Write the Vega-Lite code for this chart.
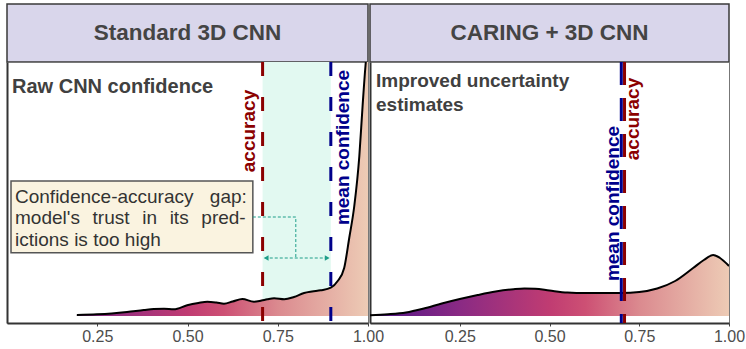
{
  "$schema": "https://vega.github.io/schema/vega-lite/v6.json",
  "background": "white",
  "padding": {"left": 6, "top": 3, "right": 0, "bottom": 0},
  "columns": 2,
  "spacing": {"row": 0, "column": 2},
  "bounds": "flush",
  "config": {
    "font": "Liberation Sans",
    "view": {"stroke": "#777", "strokeWidth": 1},
    "axisX": {"labelFontSize": 16, "labelColor": "#4d4d4d", "tickColor": "#444", "tickSize": 3, "domainColor": "#333", "domainWidth": 2, "grid": false, "labelPadding": 2, "labelFlush": false},
    "axisY": {"labels": false, "ticks": false, "grid": false, "domainColor": "#333", "domainWidth": 2}
  },
  "concat": [
    {
      "width": 361, "height": 58,
      "view": {"fill": "#d9d6eb", "stroke": "#3a3a3a", "strokeWidth": 1.5},
      "data": {"values": [{"title": "Standard 3D CNN"}]},
      "mark": {"type": "text", "fontSize": 22.5, "fontWeight": "bold", "color": "#444444"},
      "encoding": {"text": {"field": "title"}}
    },
    {
      "width": 359, "height": 58,
      "view": {"fill": "#d9d6eb", "stroke": "#3a3a3a", "strokeWidth": 1.5},
      "data": {"values": [{"title": "CARING + 3D CNN"}]},
      "mark": {"type": "text", "fontSize": 22.5, "fontWeight": "bold", "color": "#444444"},
      "encoding": {"text": {"field": "title"}}
    },
    {
      "width": 361, "height": 261,
      "layer": [
        {
          "data": {"values": [{"x1": 0.708, "x2": 0.897, "y1": 0, "y2": 254}]},
          "mark": {"type": "rect", "color": "#e2f9f1"},
          "encoding": {
            "x": {"field": "x1", "type": "quantitative", "title": null, "scale": {"domain": [0, 1], "nice": false, "zero": false}, "axis": {"values": [0.25, 0.5, 0.75, 1], "format": ".2f"}},
            "x2": {"field": "x2"},
            "y": {"field": "y1", "type": "quantitative", "title": null, "scale": {"domain": [-7, 254], "nice": false, "zero": false}},
            "y2": {"field": "y2"}
          }
        },
        {
          "data": {"name": "leftDensity", "values": [
            {"x": 0.1935, "d": 1}, {"x": 0.249, "d": 1.7}, {"x": 0.29, "d": 2.6}, {"x": 0.3325, "d": 4}, {"x": 0.379, "d": 6}, {"x": 0.4065, "d": 7}, {"x": 0.435, "d": 7.2}, {"x": 0.462, "d": 6.7}, {"x": 0.499, "d": 10.7}, {"x": 0.53, "d": 13}, {"x": 0.555, "d": 14.3}, {"x": 0.58, "d": 13.5}, {"x": 0.601, "d": 12.3}, {"x": 0.625, "d": 14.5}, {"x": 0.652, "d": 17}, {"x": 0.684, "d": 14.3}, {"x": 0.705, "d": 15.5}, {"x": 0.721, "d": 16.7}, {"x": 0.74, "d": 17.7}, {"x": 0.768, "d": 16.7}, {"x": 0.795, "d": 19}, {"x": 0.823, "d": 23}, {"x": 0.845, "d": 24.5}, {"x": 0.869, "d": 25.7}, {"x": 0.897, "d": 28.3}, {"x": 0.916, "d": 35}, {"x": 0.934, "d": 48}, {"x": 0.948, "d": 78}, {"x": 0.962, "d": 110}, {"x": 0.976, "d": 160}, {"x": 0.985, "d": 210}, {"x": 0.993, "d": 250}, {"x": 1.0, "d": 275}
          ]},
          "mark": {"type": "area", "interpolate": "monotone", "clip": true,
            "fill": {"gradient": "linear", "x1": 0, "y1": 0, "x2": 1, "y2": 0, "stops": [
              {"offset": 0, "color": "#7d2585"}, {"offset": 0.07, "color": "#8a2a84"}, {"offset": 0.38, "color": "#c03c72"}, {"offset": 0.504, "color": "#cd5074"}, {"offset": 0.69, "color": "#db8a8f"}, {"offset": 1, "color": "#edcbb5"}
            ]}},
          "encoding": {
            "x": {"field": "x", "type": "quantitative", "title": null},
            "y": {"field": "d", "type": "quantitative", "title": null},
            "y2": {"datum": 0}
          }
        },
        {
          "data": {"name": "leftDensity"},
          "mark": {"type": "line", "interpolate": "monotone", "clip": true, "color": "black", "strokeWidth": 2},
          "encoding": {
            "x": {"field": "x", "type": "quantitative", "title": null},
            "y": {"field": "d", "type": "quantitative", "title": null}
          }
        },
        {
          "data": {"values": [{"x": 0.708, "name": "accuracy"}, {"x": 0.897, "name": "mean confidence"}]},
          "mark": {"type": "rule", "strokeWidth": 3, "strokeDash": [14, 21]},
          "encoding": {
            "x": {"field": "x", "type": "quantitative", "title": null},
            "color": {"field": "name", "type": "nominal", "scale": {"domain": ["accuracy", "mean confidence"], "range": ["#8b0000", "#00008b"]}, "legend": null}
          }
        },
        {
          "data": {"values": [{"x": 0.669, "y": 185, "name": "accuracy"}, {"x": 0.931, "y": 168.5, "name": "mean confidence"}]},
          "mark": {"type": "text", "angle": 270, "fontSize": 19, "fontWeight": "bold", "align": "center", "baseline": "middle"},
          "encoding": {
            "x": {"field": "x", "type": "quantitative", "title": null},
            "y": {"field": "y", "type": "quantitative", "title": null},
            "text": {"field": "name"},
            "color": {"field": "name", "type": "nominal", "legend": null}
          }
        },
        {
          "data": {"values": [{"x": 0.0139, "y": 223, "t": "Raw CNN confidence"}]},
          "mark": {"type": "text", "align": "left", "baseline": "alphabetic", "fontSize": 20, "fontWeight": "bold", "color": "#404040"},
          "encoding": {
            "x": {"field": "x", "type": "quantitative", "title": null},
            "y": {"field": "y", "type": "quantitative", "title": null},
            "text": {"field": "t"}
          }
        },
        {
          "data": {"values": [{"x1": 0.0111, "x2": 0.681, "y1": 63.3, "y2": 135}]},
          "mark": {"type": "rect", "fill": "#faf3e0", "stroke": "#555", "strokeWidth": 1.5},
          "encoding": {
            "x": {"field": "x1", "type": "quantitative", "title": null},
            "x2": {"field": "x2"},
            "y": {"field": "y1", "type": "quantitative", "title": null},
            "y2": {"field": "y2"}
          }
        },
        {
          "data": {"values": [
            {"x": 0.0222, "y": 113, "t": "Confidence-accuracy\u00a0\u2002\u200agap:"},
            {"x": 0.0222, "y": 92, "t": "model's\u2004\u2004trust\u2004\u2004in\u2004\u2004its\u2004\u2004pred-"},
            {"x": 0.0222, "y": 70, "t": "ictions is too high"}
          ]},
          "mark": {"type": "text", "align": "left", "baseline": "alphabetic", "fontSize": 19, "color": "#333333"},
          "encoding": {
            "x": {"field": "x", "type": "quantitative", "title": null},
            "y": {"field": "y", "type": "quantitative", "title": null},
            "text": {"field": "t"}
          }
        },
        {
          "data": {"values": [{"x": 0.681, "y": 99, "o": 1}, {"x": 0.8, "y": 99, "o": 2}, {"x": 0.8, "y": 58, "o": 3}]},
          "mark": {"type": "line", "color": "#1f9e89", "strokeWidth": 1, "strokeDash": [3, 2]},
          "encoding": {
            "x": {"field": "x", "type": "quantitative", "title": null},
            "y": {"field": "y", "type": "quantitative", "title": null},
            "order": {"field": "o"}
          }
        },
        {
          "data": {"values": [{"x1": 0.714, "x2": 0.891, "y": 58}]},
          "mark": {"type": "rule", "color": "#1f9e89", "strokeWidth": 1, "strokeDash": [3, 2]},
          "encoding": {
            "x": {"field": "x1", "type": "quantitative", "title": null},
            "x2": {"field": "x2"},
            "y": {"field": "y", "type": "quantitative", "title": null}
          }
        },
        {
          "data": {"values": [{"x": 0.718, "y": 58, "s": "l"}, {"x": 0.887, "y": 58, "s": "r"}]},
          "mark": {"type": "point", "filled": true, "opacity": 1, "color": "#1f9e89", "size": 30},
          "encoding": {
            "x": {"field": "x", "type": "quantitative", "title": null},
            "y": {"field": "y", "type": "quantitative", "title": null},
            "shape": {"field": "s", "type": "nominal", "scale": {"domain": ["l", "r"], "range": ["triangle-left", "triangle-right"]}, "legend": null}
          }
        }
      ]
    },
    {
      "width": 359, "height": 261,
      "layer": [
        {
          "data": {"name": "rightDensity", "values": [
            {"x": 0, "d": 0.7}, {"x": 0.05, "d": 1.7}, {"x": 0.1, "d": 3.5}, {"x": 0.15, "d": 7.5}, {"x": 0.2, "d": 12.5}, {"x": 0.25, "d": 17}, {"x": 0.3, "d": 21}, {"x": 0.35, "d": 24.5}, {"x": 0.4, "d": 26.8}, {"x": 0.43, "d": 27.5}, {"x": 0.46, "d": 27.3}, {"x": 0.5, "d": 25.5}, {"x": 0.55, "d": 23.5}, {"x": 0.6, "d": 23}, {"x": 0.65, "d": 23}, {"x": 0.7, "d": 23}, {"x": 0.75, "d": 24}, {"x": 0.8, "d": 27.5}, {"x": 0.85, "d": 35}, {"x": 0.9, "d": 48}, {"x": 0.93, "d": 56}, {"x": 0.956, "d": 61}, {"x": 0.975, "d": 58}, {"x": 1.0, "d": 50}
          ]},
          "mark": {"type": "area", "interpolate": "monotone", "clip": true,
            "fill": {"gradient": "linear", "x1": 0, "y1": 0, "x2": 1, "y2": 0, "stops": [
              {"offset": 0, "color": "#4f1488"}, {"offset": 0.25, "color": "#8a2a84"}, {"offset": 0.5, "color": "#c03c72"}, {"offset": 0.6, "color": "#cd5074"}, {"offset": 0.75, "color": "#db8a8f"}, {"offset": 1, "color": "#edcbb5"}
            ]}},
          "encoding": {
            "x": {"field": "x", "type": "quantitative", "title": null, "scale": {"domain": [0, 1], "nice": false, "zero": false}, "axis": {"values": [0.25, 0.5, 0.75, 1], "format": ".2f"}},
            "y": {"field": "d", "type": "quantitative", "title": null, "scale": {"domain": [-7, 254], "nice": false, "zero": false}},
            "y2": {"datum": 0}
          }
        },
        {
          "data": {"name": "rightDensity"},
          "mark": {"type": "line", "interpolate": "monotone", "clip": true, "color": "black", "strokeWidth": 2},
          "encoding": {
            "x": {"field": "x", "type": "quantitative", "title": null},
            "y": {"field": "d", "type": "quantitative", "title": null}
          }
        },
        {
          "data": {"values": [{"x": 0.7, "name": "mean confidence"}, {"x": 0.709, "name": "accuracy"}]},
          "mark": {"type": "rule", "strokeWidth": 3, "strokeDash": [23, 13]},
          "encoding": {
            "x": {"field": "x", "type": "quantitative", "title": null},
            "color": {"field": "name", "type": "nominal", "scale": {"domain": ["accuracy", "mean confidence"], "range": ["#8b0000", "#00008b"]}, "legend": null}
          }
        },
        {
          "data": {"values": [{"x": 0.677, "y": 112.5, "name": "mean confidence"}, {"x": 0.733, "y": 197, "name": "accuracy"}]},
          "mark": {"type": "text", "angle": 270, "fontSize": 19, "fontWeight": "bold", "align": "center", "baseline": "middle"},
          "encoding": {
            "x": {"field": "x", "type": "quantitative", "title": null},
            "y": {"field": "y", "type": "quantitative", "title": null},
            "text": {"field": "name"},
            "color": {"field": "name", "type": "nominal", "legend": null}
          }
        },
        {
          "data": {"values": [{"x": 0.0167, "y": 229, "t": "Improved uncertainty"}, {"x": 0.0167, "y": 205, "t": "estimates"}]},
          "mark": {"type": "text", "align": "left", "baseline": "alphabetic", "fontSize": 19, "fontWeight": "bold", "color": "#404040"},
          "encoding": {
            "x": {"field": "x", "type": "quantitative", "title": null},
            "y": {"field": "y", "type": "quantitative", "title": null},
            "text": {"field": "t"}
          }
        }
      ]
    }
  ]
}
